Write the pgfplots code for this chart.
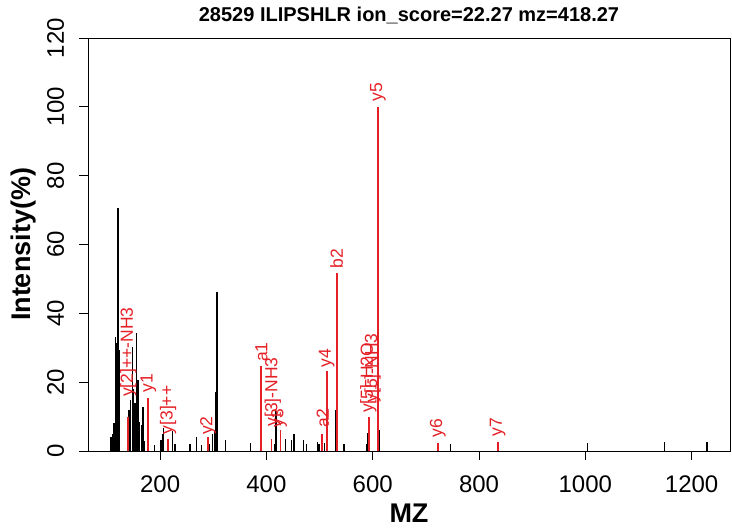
\documentclass[border=0pt]{standalone}
\usepackage{pgfplots}
\pgfplotsset{compat=1.18}
\usepackage{fontspec}
\setmainfont{Liberation Sans}
\definecolor{pkred}{RGB}{228,32,38}
\tikzset{pklabel/.style={rotate=90, anchor=west, inner sep=0pt, text=pkred, font=\fontsize{17.5}{17.5}\selectfont}}
\pgfplotstableread{
mz int
107.5 4.0
110 1.5
111.5 5.0
113 8.0
115.5 33.2
118.3 31.4
120.8 70.5
123.5 29.4
141.5 12.0
144.5 14.8
147.5 30.3
150 18.0
152.8 14.0
155.5 34.3
158.3 20.6
161.5 8.5
164.5 7.5
167.5 12.9
171 3.0
189 1.7
201.5 3.2
204 5.0
206.5 6.6
223.6 5.8
228 2.0
256.5 1.9
268.5 4.2
278 1.7
293 2.0
298 4.8
302.5 6.0
305 17.2
306.8 46.3
322.5 3.2
369.5 2.4
414.9 2.0
418 11.5
436 3.4
447.6 3.2
452 4.9
469.5 3.2
475.8 2.0
496.5 2.7
499 2.0
509 2.2
531 11.9
546 1.9
588.7 2.0
590.6 5.2
612.5 6.0
746.7 2.0
1003.8 2.3
1148.7 2.5
1229 2.5
}\blackpeaks
\pgfplotstableread{
mz int
139 10.0
178 15.3
215 3.6
290 4.0
390.4 24.7
409.5 3.4
426.5 6.1
504 5.0
513.4 23.3
532.3 51.7
592.4 10.0
610 100
722.3 2.4
835.2 2.7
}\redpeaks
\begin{document}
\begin{tikzpicture}
\path[use as bounding box] (-88pt,-78pt) rectangle (644pt,451pt);
\begin{axis}[
  at={(0,0)}, anchor=south west,
  scale only axis, width=642pt, height=413pt,
  xmin=64.3, xmax=1272.2, ymin=0, ymax=120,
  xtick={200,400,...,1200}, ytick={0,20,...,120},
  tick pos=left, tick align=outside, major tick length=9pt,
  axis line style={line width=0.9pt, black},
  tick style={line width=0.9pt, black},
  /pgf/number format/assume math mode=true,
  /pgf/number format/1000 sep={},
  ticklabel style={font=\fontsize{24}{24}\selectfont},
  xticklabel style={inner sep=0pt, anchor=north, yshift=-16pt},
  yticklabel style={inner sep=0pt, xshift=-15pt, rotate=90, anchor=base},
  title={\bfseries 28529 ILIPSHLR ion\_score=22.27 mz=418.27},
  title style={font=\fontsize{20}{20}\selectfont, at={(axis description cs:0.5,1.0266)}, anchor=base, inner sep=0pt},
  xlabel={\bfseries MZ},
  xlabel style={font=\fontsize{27}{27}\selectfont, at={(axis description cs:0.5,-0.17433)}, anchor=base, inner sep=0pt},
  ylabel={\bfseries Intensity(\%)},
  ylabel style={font=\fontsize{27}{27}\selectfont, at={(axis description cs:-0.0888,0.5)}, anchor=base, inner sep=0pt},
  clip=false,
]
\addplot[ycomb, black, line width=1.4pt, mark=none] table[x=mz, y=int] {\blackpeaks};
\addplot[ycomb, pkred, line width=1.9pt, mark=none] table[x=mz, y=int] {\redpeaks};
\node[pklabel] at (axis cs:140,15.7) {y[2]++-NH3};
\node[pklabel] at (axis cs:178,16.9) {y1};
\node[pklabel] at (axis cs:215,4.8) {y[3]++};
\node[pklabel] at (axis cs:290,4.6) {y2};
\node[pklabel] at (axis cs:390.4,25.8) {a1};
\node[pklabel] at (axis cs:412,7.1) {y[3]-NH3};
\node[pklabel] at (axis cs:424,6.7) {y3};
\node[pklabel] at (axis cs:506,6.7) {a2};
\node[pklabel] at (axis cs:513.4,24.3) {y4};
\node[pklabel] at (axis cs:532.3,53) {b2};
\node[pklabel] at (axis cs:592,11) {y[5]-H2O};
\node[pklabel] at (axis cs:600,14) {y[5]-NH3};
\node[pklabel] at (axis cs:610,101.5) {y5};
\node[pklabel] at (axis cs:722.3,3.8) {y6};
\node[pklabel] at (axis cs:835.2,4.2) {y7};
\end{axis}
\end{tikzpicture}
\end{document}
